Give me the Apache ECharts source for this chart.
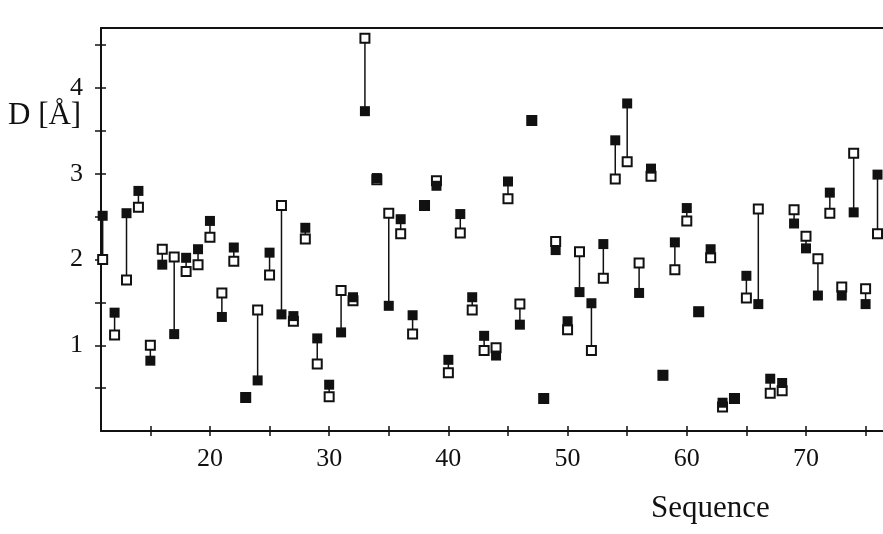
<!DOCTYPE html>
<html>
<head>
<meta charset="utf-8">
<script src="https://cdn.jsdelivr.net/npm/echarts@6/dist/echarts.min.js"></script>
<style>
  html, body { margin: 0; padding: 0; background: #fff; }
  #chart { width: 883px; height: 534px; }
</style>
</head>
<body>
<div id="chart"></div>
<script>
var sequence = [11, 12, 13, 14, 15, 16, 17, 18, 19, 20, 21, 22, 23, 24, 25, 26, 27, 28, 29, 30,
  31, 32, 33, 34, 35, 36, 37, 38, 39, 40, 41, 42, 43, 44, 45, 46, 47, 48, 49, 50,
  51, 52, 53, 54, 55, 56, 57, 58, 59, 60, 61, 62, 63, 64, 65, 66, 67, 68, 69, 70,
  71, 72, 73, 74, 75, 76];
// filled squares
var filledD = [2.51, 1.38, 2.54, 2.80, 0.82, 1.94, 1.13, 2.02, 2.12, 2.45, 1.33, 2.14, 0.39, 0.59, 2.08, 1.36, 1.34, 2.37, 1.08, 0.54,
  1.15, 1.56, 3.73, 2.95, 1.46, 2.47, 1.35, 2.63, 2.86, 0.83, 2.53, 1.56, 1.11, 0.88, 2.91, 1.24, 3.62, 0.38, 2.11, 1.28,
  1.62, 1.49, 2.18, 3.39, 3.82, 1.61, 3.06, 0.65, 2.20, 2.60, 1.39, 2.12, 0.33, 0.38, 1.81, 1.48, 0.61, 0.56, 2.42, 2.13,
  1.58, 2.78, 1.58, 2.55, 1.48, 2.99];
// open squares
var openD = [2.00, 1.12, 1.76, 2.61, 1.00, 2.12, 2.03, 1.86, 1.94, 2.26, 1.61, 1.98, 0.39, 1.41, 1.82, 2.63, 1.28, 2.24, 0.78, 0.40,
  1.64, 1.52, 4.58, 2.93, 2.54, 2.30, 1.13, 2.63, 2.92, 0.68, 2.31, 1.41, 0.94, 0.97, 2.71, 1.48, 3.62, 0.38, 2.21, 1.18,
  2.09, 0.94, 1.78, 2.94, 3.14, 1.96, 2.97, 0.65, 1.88, 2.45, 1.39, 2.02, 0.28, 0.38, 1.55, 2.59, 0.44, 0.47, 2.58, 2.27,
  2.01, 2.54, 1.68, 3.24, 1.66, 2.30];
var xTicks = [15, 20, 25, 30, 35, 40, 45, 50, 55, 60, 65, 70, 75];
var xLabels = [20, 30, 40, 50, 60, 70];
var yTicks = [0.5, 1, 1.5, 2, 2.5, 3, 3.5, 4, 4.5];
var yLabels = [1, 2, 3, 4];

var chart = echarts.init(document.getElementById('chart'));
var ink = '#111';
var font = 'Liberation Serif';
var xMin = 10.86, xMax = 76.46;

var pairs = sequence.map(function (s, i) { return [s, filledD[i], openD[i]]; });

var option = {
  backgroundColor: '#fff',
  animation: false,
  grid: { left: 101, right: 0, top: 28, bottom: 103 },
  graphic: [
    { type: 'text', left: 8, top: 100, style: { text: 'D [Å]', font: '31px "Liberation Serif"', fill: ink } },
    { type: 'text', left: 651, top: 493, style: { text: 'Sequence', font: '31px "Liberation Serif"', fill: ink } }
  ],
  xAxis: [{
    type: 'value', min: xMin, max: xMax, position: 'bottom',
    splitLine: { show: false },
    axisLine: { lineStyle: { color: ink, width: 2 } },
    axisTick: { length: 5, customValues: xTicks, lineStyle: { color: ink, width: 1.5 } },
    axisLabel: { customValues: xLabels, margin: 15, color: ink, fontFamily: font, fontSize: 26 }
  }, {
    type: 'value', min: xMin, max: xMax, position: 'bottom',
    splitLine: { show: false },
    axisLine: { show: false },
    axisTick: { inside: true, length: 5, customValues: xTicks, lineStyle: { color: ink, width: 1.5 } },
    axisLabel: { show: false }
  }, {
    type: 'value', min: xMin, max: xMax, position: 'top',
    splitLine: { show: false },
    axisLine: { lineStyle: { color: ink, width: 2 } },
    axisTick: { show: false },
    axisLabel: { show: false }
  }],
  yAxis: [{
    type: 'value', min: 0, max: 4.7, position: 'left',
    splitLine: { show: false },
    axisLine: { lineStyle: { color: ink, width: 2 } },
    axisTick: { length: 6, customValues: yTicks, lineStyle: { color: ink, width: 1.5 } },
    axisLabel: { customValues: yLabels, margin: 18, color: ink, fontFamily: font, fontSize: 26 }
  }, {
    type: 'value', min: 0, max: 4.7, position: 'left',
    splitLine: { show: false },
    axisLine: { show: false },
    axisTick: { inside: true, length: 5, customValues: yTicks, lineStyle: { color: ink, width: 1.5 } },
    axisLabel: { show: false }
  }],
  series: [{
    type: 'custom',
    xAxisIndex: 0, yAxisIndex: 0,
    data: pairs,
    encode: { x: 0, y: [1, 2] },
    renderItem: function (params, api) {
      var x = api.value(0);
      var a = api.coord([x, api.value(1)]);
      var b = api.coord([x, api.value(2)]);
      return { type: 'line', shape: { x1: a[0], y1: a[1], x2: b[0], y2: b[1] }, style: { stroke: ink, lineWidth: 1.5 } };
    }
  }, {
    type: 'scatter',
    xAxisIndex: 0, yAxisIndex: 0,
    symbol: 'rect', symbolSize: 9,
    itemStyle: { color: '#fff', borderColor: ink, borderWidth: 2, opacity: 1 },
    data: sequence.map(function (s, i) { return [s, openD[i]]; })
  }, {
    type: 'scatter',
    xAxisIndex: 0, yAxisIndex: 0,
    symbol: 'rect', symbolSize: 10,
    itemStyle: { color: ink, opacity: 1 },
    data: sequence.map(function (s, i) { return [s, filledD[i]]; })
  }]
};
chart.setOption(option);
</script>
</body>
</html>
